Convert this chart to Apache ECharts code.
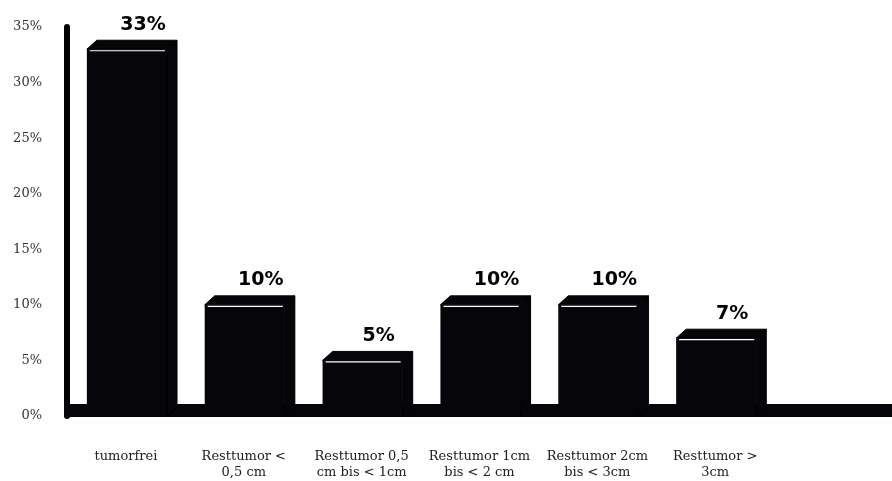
<!DOCTYPE html>
<html>
<head>
<meta charset="utf-8">
<script src="https://cdn.jsdelivr.net/npm/echarts@6/dist/echarts.min.js"></script>
<style>
  html, body { margin: 0; padding: 0; background: #fff; }
  #chart { width: 892px; height: 481px; }
</style>
</head>
<body>
<div id="chart"></div>
<script>
// Share of patients by residual tumour size
const categories = [
  'tumorfrei',
  'Resttumor <\n0,5 cm',
  'Resttumor 0,5\ncm bis < 1cm',
  'Resttumor 1cm\nbis < 2 cm',
  'Resttumor 2cm\nbis < 3cm',
  'Resttumor >\n3cm',
  ''
];
const percentValues = [33, 10, 5, 10, 10, 7, null];
const yMin = 0;
const yMax = 35;
const yStep = 5;

const DEPTH_X = 10;
const DEPTH_Y = 9;
const FLOOR_H = 12;

const chart = echarts.init(document.getElementById('chart'));

// 3D-looking block: front face, top face, right side face, value label
function renderBlock(params, api) {
  const v = api.value(1);
  if (v == null || isNaN(v)) return null;
  const topPt = api.coord([api.value(0), v]);
  const basePt = api.coord([api.value(0), 0]);
  const w = api.size([1, 0])[0] * 0.68;
  const x0 = topPt[0] - w / 2 + 1;
  const x1 = x0 + w;
  const yT = topPt[1];
  const yB = basePt[1];
  const fill = '#05050a';
  return {
    type: 'group',
    children: [
      {
        type: 'polygon',
        shape: { points: [[x1, yT], [x1 + DEPTH_X, yT - DEPTH_Y], [x1 + DEPTH_X, yB - DEPTH_Y], [x1, yB]] },
        style: { fill: fill, stroke: '#000', lineWidth: 1 }
      },
      {
        type: 'polygon',
        shape: { points: [[x0, yT], [x0 + DEPTH_X, yT - DEPTH_Y], [x1 + DEPTH_X, yT - DEPTH_Y], [x1, yT]] },
        style: { fill: fill, stroke: '#000', lineWidth: 1 }
      },
      {
        type: 'rect',
        shape: { x: x0, y: yT, width: w, height: yB - yT },
        style: { fill: fill }
      },
      {
        type: 'line',
        shape: { x1: x0 + 3, y1: yT + 1.5, x2: x1 - 2, y2: yT + 1.5 },
        style: { stroke: '#fff', lineWidth: 1.2 }
      },
      {
        type: 'text',
        style: {
          x: (x0 + x1) / 2 + 16,
          y: yT - DEPTH_Y - 6,
          text: v + '%',
          fill: '#000',
          font: 'bold 19px "DejaVu Sans"',
          align: 'center',
          verticalAlign: 'bottom'
        }
      }
    ]
  };
}

// Floor slab along the category axis
function renderFloor(params, api) {
  const cs = params.coordSys;
  return {
    type: 'rect',
    shape: { x: cs.x - 3, y: cs.y + cs.height - FLOOR_H, width: cs.width + 3, height: FLOOR_H + 1 },
    style: { fill: '#05050a' }
  };
}

chart.setOption({
  backgroundColor: '#ffffff',
  animation: false,
  grid: { left: 67, right: 0, top: 27, bottom: 61 },
  xAxis: {
    type: 'category',
    data: categories,
    axisLine: { show: false },
    axisTick: { show: false },
    axisLabel: {
      interval: 0,
      margin: 33,
      color: '#222',
      fontFamily: 'DejaVu Serif',
      fontSize: 13,
      lineHeight: 16
    }
  },
  yAxis: {
    type: 'value',
    min: yMin,
    max: yMax,
    interval: yStep,
    axisLine: { show: true, lineStyle: { color: '#000', width: 6 } },
    axisTick: { show: false },
    splitLine: { show: false },
    axisLabel: {
      margin: 25,
      color: '#333',
      fontFamily: 'DejaVu Serif',
      fontSize: 13,
      formatter: function (val) { return val + '%'; }
    }
  },
  series: [
    {
      type: 'custom',
      renderItem: renderFloor,
      data: [[0, 0]],
      z: 1,
      silent: true
    },
    {
      type: 'custom',
      renderItem: renderBlock,
      data: percentValues.map(function (v, i) { return [i, v]; }),
      z: 2
    }
  ]
});
</script>
</body>
</html>
